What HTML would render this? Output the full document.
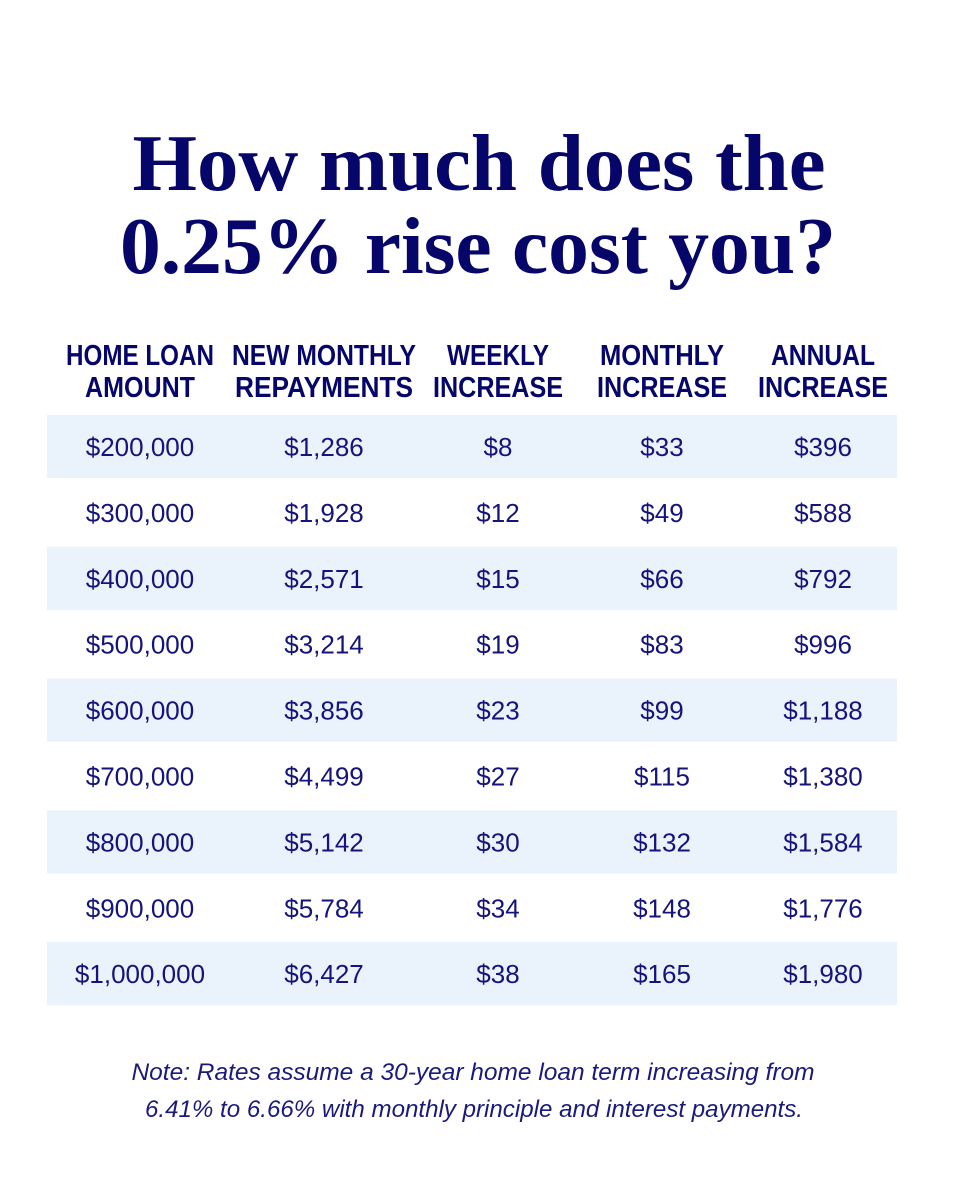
<!DOCTYPE html>
<html><head><meta charset="utf-8"><style>
html,body{margin:0;padding:0;background:#fff;}
svg{display:block;}
</style></head><body>
<svg id="chart" width="960" height="1200" viewBox="0 0 960 1200" xmlns="http://www.w3.org/2000/svg">
<rect width="960" height="1200" fill="#fff"/>
<g fill="#06066a" font-family="Liberation Serif, serif" font-weight="bold" font-size="81" text-anchor="middle">
<text x="479" y="190" textLength="693" lengthAdjust="spacingAndGlyphs">How much does the</text>
<text x="478" y="273" textLength="716" lengthAdjust="spacingAndGlyphs">0.25% rise cost you?</text>
</g>
<g id="header" fill="#06066a" font-family="Liberation Sans, sans-serif" font-weight="bold" font-size="29" text-anchor="middle"></g>
<g id="rows"></g>
<g fill="#1a1a7a" font-family="Liberation Sans, sans-serif" font-style="italic" font-size="24" text-anchor="middle">
<text x="473" y="1080" textLength="683" lengthAdjust="spacingAndGlyphs">Note: Rates assume a 30-year home loan term increasing from</text>
<text x="474" y="1117" textLength="658" lengthAdjust="spacingAndGlyphs">6.41% to 6.66% with monthly principle and interest payments.</text>
</g>
</svg>
<script>
const headers1 = ["HOME LOAN","NEW MONTHLY","WEEKLY","MONTHLY","ANNUAL"];
const headers2 = ["AMOUNT","REPAYMENTS","INCREASE","INCREASE","INCREASE"];
const loanAmounts = ["$200,000","$300,000","$400,000","$500,000","$600,000","$700,000","$800,000","$900,000","$1,000,000"];
const monthlyRepayments = ["$1,286","$1,928","$2,571","$3,214","$3,856","$4,499","$5,142","$5,784","$6,427"];
const weeklyIncrease = ["$8","$12","$15","$19","$23","$27","$30","$34","$38"];
const monthlyIncrease = ["$33","$49","$66","$83","$99","$115","$132","$148","$165"];
const annualIncrease = ["$396","$588","$792","$996","$1,188","$1,380","$1,584","$1,776","$1,980"];

const NS = "http://www.w3.org/2000/svg";
const colX = [140, 324, 498, 662, 823];
const h1W = [148, 184, 102, 124, 104];
const h2W = [110, 178, 130, 130, 130];
const header = document.getElementById('header');
headers1.forEach((h, i) => {
  [[h, 365, h1W[i]], [headers2[i], 397, h2W[i]]].forEach(([txt, y, w]) => {
    const t = document.createElementNS(NS, 'text');
    t.setAttribute('x', colX[i]); t.setAttribute('y', y);
    t.setAttribute('textLength', w); t.setAttribute('lengthAdjust', 'spacingAndGlyphs');
    t.textContent = txt;
    
    
    header.appendChild(t);
  });
});
const rowsG = document.getElementById('rows');
const top0 = 415, rowH = 65.9;
const cols = [loanAmounts, monthlyRepayments, weeklyIncrease, monthlyIncrease, annualIncrease];
loanAmounts.forEach((_, r) => {
  const y = top0 + r * rowH;
  if (r % 2 === 0) {
    const bg = document.createElementNS(NS, 'rect');
    bg.setAttribute('x', 47); bg.setAttribute('y', y);
    bg.setAttribute('width', 850); bg.setAttribute('height', 63);
    bg.setAttribute('fill', '#eaf2fb');
    
    
    rowsG.appendChild(bg);
  }
  cols.forEach((arr, c) => {
    const t = document.createElementNS(NS, 'text');
    t.setAttribute('x', colX[c]); t.setAttribute('y', y + 41);
    t.setAttribute('text-anchor', 'middle');
    t.setAttribute('fill', '#14147a');
    t.setAttribute('font-family', 'Liberation Sans, sans-serif');
    t.setAttribute('font-size', '26');
    t.textContent = arr[r];
    
    
    rowsG.appendChild(t);
  });
});
</script>
</body></html>
